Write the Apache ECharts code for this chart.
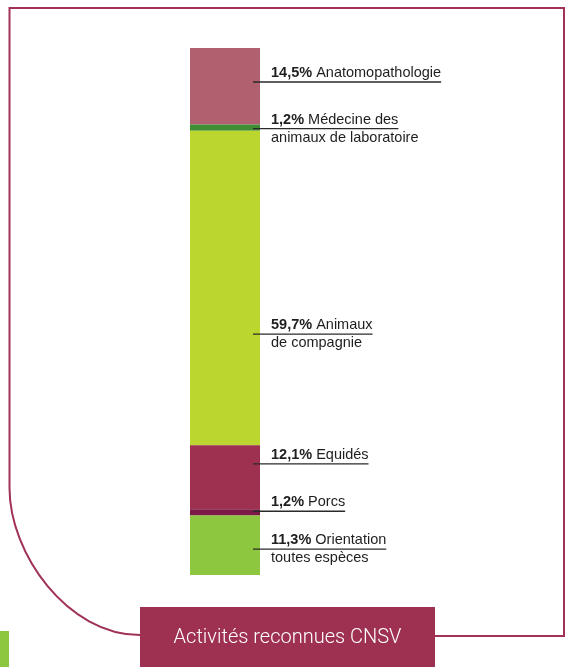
<!DOCTYPE html>
<html><head><meta charset="utf-8">
<script src="https://cdn.jsdelivr.net/npm/echarts@6/dist/echarts.min.js"></script>
<style>html,body{margin:0;padding:0;background:#fff}#c{width:566px;height:667px}</style>
</head><body><div id="c"></div>
<script>
// ---- data ----
const categories = ['Anatomopathologie', 'Médecine des animaux de laboratoire', 'Animaux de compagnie', 'Equidés', 'Porcs', 'Orientation toutes espèces'];
const values = [14.5, 1.2, 59.7, 12.1, 1.2, 11.3];
const nameLine1 = ['Anatomopathologie', 'Médecine des', 'Animaux', 'Equidés', 'Porcs', 'Orientation'];
const nameLine2 = ['', 'animaux de laboratoire', 'de compagnie', '', '', 'toutes espèces'];
const titleText = 'Activités reconnues CNSV';

// ---- layout / style ----
const colors = ['#b0606f', '#3f8d35', '#bcd630', '#9e3050', '#7a1a45', '#8dc63f'];
const labelAnchor = [6.45, 15.3, 54.3, 78.9, 87.9, 95.1]; // leader-line position along value axis
const frameColor = '#a0325a';
const boxColor = '#9e3052';
const FONT = '"Liberation Sans", Arial, sans-serif';
const FS = 14.5;

const chart = echarts.init(document.getElementById('c'), null, {renderer: 'canvas'});
chart.setOption({
  animation: false,
  backgroundColor: '#fff',
  grid: {left: 190, top: 48, width: 70, height: 527},
  xAxis: {type: 'category', data: ['CNSV'], show: false},
  yAxis: {type: 'value', min: 0, max: 100, inverse: true, show: false},
  series: categories.map((c, i) => ({
    type: 'bar', name: c, stack: 'total', barWidth: 70, silent: true,
    data: [values[i]], itemStyle: {color: colors[i]}
  }))
});

const ctx = document.createElement('canvas').getContext('2d');
function tw(txt, bold) { ctx.font = (bold ? 'bold ' : '') + FS + 'px ' + FONT; return ctx.measureText(txt).width; }
function fmt(v) { return v.toFixed(1).replace('.', ',') + '%'; }

const g = [];
// frame
g.push({type: 'bezierCurve', z: 1, shape: {x1: 140, y1: 635, cpx1: 67.6, cpy1: 635, cpx2: 9.5, cpy2: 553.8, x2: 9.5, y2: 488},
  style: {fill: null, stroke: frameColor, lineWidth: 2}});
g.push({type: 'polyline', z: 1, shape: {points: [[9.5, 488], [9.5, 8], [564, 8], [564, 636], [420, 636]]},
  style: {fill: null, stroke: frameColor, lineWidth: 2}});
g.push({type: 'rect', z: 2, shape: {x: 140, y: 607, width: 295, height: 60}, style: {fill: boxColor}});
g.push({type: 'text', z: 3, style: {text: titleText, x: 287.5, y: 638, align: 'center', verticalAlign: 'middle',
  font: '300 20px Roboto, sans-serif', fill: '#fff'}});
g.push({type: 'rect', z: 2, shape: {x: 0, y: 631, width: 9, height: 36}, style: {fill: '#8dc63f'}});

const x0 = 271;
categories.forEach((c, i) => {
  const y = chart.convertToPixel({yAxisIndex: 0}, labelAnchor[i]);
  const p = fmt(values[i]);
  const wp = tw(p, true), ws = tw(' ', false), wn = tw(nameLine1[i], false);
  g.push({type: 'line', z: 5, shape: {x1: 253, y1: y, x2: x0 + wp + ws + wn, y2: y},
    style: {stroke: '#2a2a2a', lineWidth: 1.3}});
  g.push({type: 'text', z: 5, style: {text: p, x: x0, y: y - 9, verticalAlign: 'middle',
    font: 'bold ' + FS + 'px ' + FONT, fill: '#1e1e1e'}});
  g.push({type: 'text', z: 5, style: {text: nameLine1[i], x: x0 + wp + ws, y: y - 9, verticalAlign: 'middle',
    font: FS + 'px ' + FONT, fill: '#1e1e1e'}});
  if (nameLine2[i]) {
    g.push({type: 'text', z: 5, style: {text: nameLine2[i], x: x0, y: y + 9, verticalAlign: 'middle',
      font: FS + 'px ' + FONT, fill: '#1e1e1e'}});
  }
});
chart.setOption({graphic: g});
</script>
</body></html>
